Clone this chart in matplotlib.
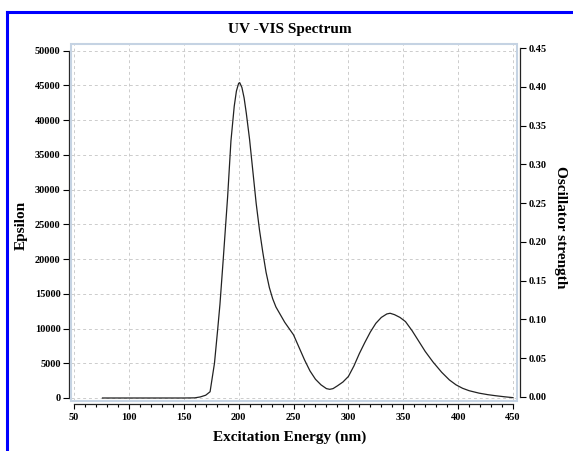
import matplotlib
matplotlib.use("Agg")
import matplotlib.pyplot as plt
from matplotlib.patches import Rectangle
from matplotlib.lines import Line2D
from matplotlib.ticker import MultipleLocator

plt.rcParams['font.family'] = ['Liberation Serif', 'DejaVu Serif']
plt.rcParams['font.weight'] = 'bold'

# spectrum (nm, epsilon)
wavelength = [76, 100, 150, 160, 165, 170, 174, 178, 181, 183, 186, 190, 193, 196,
              198, 200, 201, 203, 205, 207, 210, 213, 216, 219, 222, 225, 228, 231,
              234, 238, 242, 246, 250, 255, 260, 265, 270, 275, 280, 283, 286, 290,
              295, 300, 305, 310, 315, 320, 325, 330, 335, 338, 342, 347, 352, 358,
              364, 370, 377, 385, 392, 398, 404, 410, 419, 427, 434, 442, 450]
epsilon = [0, 0, 0, 20, 150, 400, 900, 5000, 10000, 13500, 20000, 29000, 37000, 42000,
           44200, 45300, 45400, 44700, 43200, 41000, 37200, 32600, 28000, 24200, 21000,
           18100, 15900, 14300, 13100, 12000, 10900, 10000, 9100, 7300, 5500, 3900, 2700,
           1900, 1350, 1250, 1350, 1750, 2300, 3100, 4600, 6400, 8000, 9500, 10750, 11600,
           12100, 12200, 12000, 11600, 11000, 9700, 8200, 6700, 5200, 3700, 2600, 1900,
           1400, 1050, 700, 480, 330, 180, 50]

eps_ticks = list(range(0, 50001, 5000))
osc_ticks = [0.00, 0.05, 0.10, 0.15, 0.20, 0.25, 0.30, 0.35, 0.40, 0.45]
x_ticks = list(range(50, 451, 50))

fig = plt.figure(figsize=(5.73, 4.51), dpi=100)
ax = fig.add_axes([71/573, 50/451, 446/573, 357/451])

ax.plot(wavelength, epsilon, color='#222222', lw=0.9)
ax.set_xlim(47.3, 453.6)
ax.set_ylim(-432, 50965)

# light frame around plot area
ax.add_patch(Rectangle((0, 0), 1, 1, transform=ax.transAxes, fill=False,
                       edgecolor='#c5d3e3', lw=1.5, clip_on=False, zorder=5))

ax.set_xticks(x_ticks)
ax.xaxis.set_minor_locator(MultipleLocator(10))
ax.set_yticks(eps_ticks)
ax.set_yticklabels([str(v) for v in eps_ticks])
ax.grid(True, color='#cccccc', linestyle=(0, (3, 3)), lw=0.7)

for s in ['top', 'right']:
    ax.spines[s].set_visible(False)
ax.spines['left'].set_position(('outward', 1.5))
ax.spines['left'].set_bounds(0, 50000)
ax.spines['bottom'].set_position(('outward', 2.2))
ax.spines['bottom'].set_bounds(50, 450)
for s in ['left', 'bottom']:
    ax.spines[s].set_linewidth(0.9)
    ax.spines[s].set_color('#222222')

ax.tick_params(axis='y', labelsize=7.5, length=4, width=0.8, pad=2)
ax.tick_params(axis='x', which='major', labelsize=7.5, length=3.5, width=0.8, pad=3)
ax.tick_params(axis='x', which='minor', length=2.5, width=0.8)

ax2 = ax.twinx()
ax2.set_ylim(-0.0052, 0.4552)
ax2.set_yticks(osc_ticks)
ax2.set_yticklabels(['%.2f' % v for v in osc_ticks])
for s in ['top', 'left', 'bottom']:
    ax2.spines[s].set_visible(False)
ax2.spines['right'].set_position(('outward', 2.2))
ax2.spines['right'].set_bounds(0, 0.45)
ax2.spines['right'].set_linewidth(0.9)
ax2.spines['right'].set_color('#222222')
ax2.tick_params(axis='y', labelsize=7.5, length=4, width=0.8, pad=2)

for t in ax.get_xticklabels() + ax.get_yticklabels() + ax2.get_yticklabels():
    t.set_fontweight('bold')

fig.text(290/573, 1 - 30/451, 'UV -VIS Spectrum', ha='center', va='center',
         fontsize=11, fontweight='bold')
fig.text(290/573, 1 - 437/451, 'Excitation Energy (nm)', ha='center', va='center',
         fontsize=11, fontweight='bold')
fig.text(21/573, 1 - 225/451, 'Epsilon', ha='center', va='center', rotation=90,
         fontsize=11, fontweight='bold')
fig.text(560/573, 1 - 227/451, 'Oscillator strength', ha='center', va='center',
         rotation=-90, fontsize=11, fontweight='bold')

# blue border at top and left
fig.add_artist(Line2D([7/573, 1], [1 - 12/451, 1 - 12/451], color='#0000ff', lw=2.2,
                      transform=fig.transFigure))
fig.add_artist(Line2D([7/573, 7/573], [0, 1 - 12/451], color='#0000ff', lw=2.2,
                      transform=fig.transFigure))

fig.savefig('out.png', dpi=100)
